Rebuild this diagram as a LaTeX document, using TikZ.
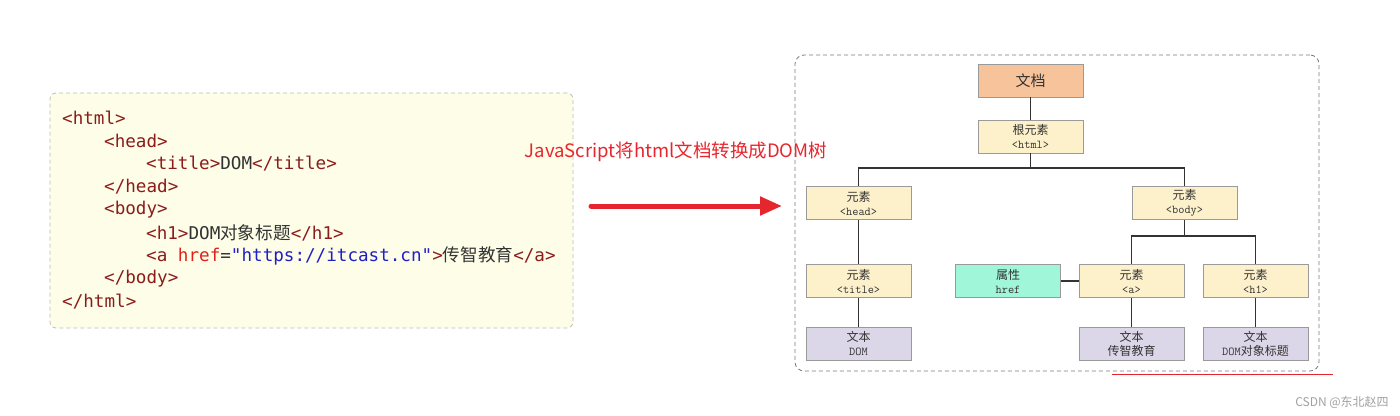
\documentclass[tikz,border=0pt]{standalone}
\usepackage{fontspec}
\setmainfont{Noto Sans CJK SC}
\newfontfamily\codefont{DejaVu Sans Mono}
\newfontfamily\cjk{Noto Sans CJK SC}
\usetikzlibrary{arrows.meta}

\definecolor{tagred}{HTML}{8B1C1C}
\definecolor{attrred}{HTML}{E0201B}
\definecolor{strblue}{HTML}{1F1FC8}
\definecolor{codegray}{HTML}{333333}
\definecolor{codebg}{HTML}{FDFDE8}
\definecolor{codedash}{HTML}{BDBDB0}
\definecolor{treedash}{HTML}{7A7A7A}
\definecolor{boxgray}{HTML}{9A9A9A}
\definecolor{linkgray}{HTML}{333333}
\definecolor{docfill}{HTML}{F7C39B}
\definecolor{elemfill}{HTML}{FDF1CB}
\definecolor{attrfill}{HTML}{A0F6D9}
\definecolor{textfill}{HTML}{DCD7E8}
\definecolor{jsred}{HTML}{E6262E}
\definecolor{markgray}{HTML}{A0A0A0}

\newcommand{\htag}[1]{\textcolor{tagred}{#1}}
\newcommand{\tmono}[1]{{\ttfamily\addfontfeature{FakeBold=0.6}#1}}

\begin{document}
\begin{tikzpicture}[x=1pt,y=-1pt,
    code/.style={anchor=west, inner sep=0pt, text=codegray, font=\codefont\fontsize{17.6}{20}\selectfont},
    tbox/.style={draw=boxgray, line width=0.8pt, minimum width=105pt, minimum height=33pt, inner sep=0pt, align=center, text=codegray, font=\fontsize{12}{14}\selectfont},
    docbox/.style={tbox, fill=docfill, font=\fontsize{15}{16}\selectfont},
    elembox/.style={tbox, fill=elemfill},
    attrbox/.style={tbox, fill=attrfill},
    textbox/.style={tbox, fill=textfill},
    link/.style={draw=linkgray, line width=1.5pt},
    convarrow/.style={draw=jsred, line width=5pt, line cap=round, -{Triangle[length=22pt,width=18pt]}},
  ]
  \useasboundingbox (0,0) rectangle (1400,415);

  % html source
  \node[draw=codedash, line width=0.8pt, dash pattern=on 4pt off 3pt, fill=codebg, rounded corners=6pt, minimum width=523pt, minimum height=235pt, inner sep=0pt] (codebox) at (311.5,210.5) {};
  \node[code] (l1) at (62,118) {\htag{<html>}};
  \node[code] (l2) at (104,140.9) {\htag{<head>}};
  \node[code] (l3) at (146,163.8) {\htag{<title>}DOM\htag{</title>}};
  \node[code] (l4) at (104,186.7) {\htag{</head>}};
  \node[code] (l5) at (104,209.6) {\htag{<body>}};
  \node[code] (l6) at (146,232.5) {\htag{<h1>}DOM{\cjk 对象标题}\htag{</h1>}};
  \node[code] (l7) at (146,255.4) {\htag{<a }\textcolor{attrred}{href}=\textcolor{strblue}{"https://itcast.cn"}\htag{>}{\cjk 传智教育}\htag{</a>}};
  \node[code] (l8) at (104,278.3) {\htag{</body>}};
  \node[code] (l9) at (62,301.2) {\htag{</html>}};

  % conversion
  \node[text=jsred, inner sep=0pt, font=\fontsize{18.5}{20}\selectfont] (jslabel) at (676,152) {JavaScript将html文档转换成DOM树};
  \coordinate (arrstart) at (591,206);
  \coordinate (arrend) at (782,206);
  \draw[convarrow] (arrstart) -- (arrend);

  % dom tree
  \node[draw=treedash, line width=0.8pt, dash pattern=on 4pt off 3pt, rounded corners=9pt, minimum width=524pt, minimum height=316pt] (treebox) at (1057,213) {};
  \node[docbox] (doc) at (1030.5,80.5) {文档};
  \node[elembox] (root) at (1030.5,136.5) {根元素\\\tmono{<html>}};
  \node[elembox] (head) at (858.5,203) {元素\\\tmono{<head>}};
  \node[elembox] (body) at (1184.5,203) {元素\\\tmono{<body>}};
  \node[elembox] (title) at (858.5,281) {元素\\\tmono{<title>}};
  \node[textbox] (domtext) at (858.5,343.5) {文本\\\tmono{DOM}};
  \node[attrbox] (href) at (1008,281) {属性\\\tmono{href}};
  \node[elembox] (aelem) at (1131.5,281) {元素\\\tmono{<a>}};
  \node[elembox] (hone) at (1255.5,281) {元素\\\tmono{<h1>}};
  \node[textbox] (atext) at (1131.5,343.5) {文本\\传智教育};
  \node[textbox] (honetext) at (1255.5,343.5) {文本\\\tmono{DOM}对象标题};

  \coordinate (rootsplit) at (1030.5,168);
  \coordinate (bodysplit) at (1184.5,236);
  \draw[link] (doc) -- (root);
  \draw[link] (root) -- (rootsplit);
  \draw[link] (rootsplit) -| (head);
  \draw[link] (rootsplit) -| (body);
  \draw[link] (head) -- (title);
  \draw[link] (title) -- (domtext);
  \draw[link] (body) -- (bodysplit);
  \draw[link] (bodysplit) -| (aelem);
  \draw[link] (bodysplit) -| (hone);
  \draw[link] (href) -- (aelem);
  \draw[link] (aelem) -- (atext);
  \draw[link] (hone) -- (honetext);

  \draw[jsred, line width=1pt] (1112,374) -- (1333,374);
  \node[text=markgray, font=\fontsize{12}{14}\selectfont] (mark) at (1342,402) {CSDN @东北赵四};
\end{tikzpicture}
\end{document}
